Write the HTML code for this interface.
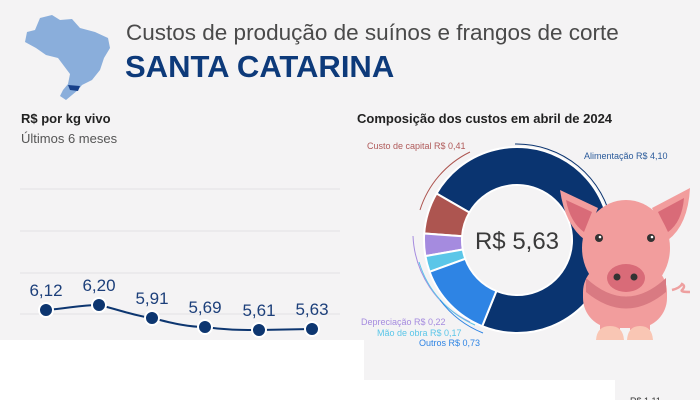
<!DOCTYPE html>
<html><head><meta charset="utf-8"><style>
html,body{margin:0;padding:0}
body{width:700px;height:400px;position:relative;background:#fff;font-family:"Liberation Sans",sans-serif;overflow:hidden}
.t{position:absolute;white-space:nowrap}
</style></head><body>
<svg width="700" height="400" style="position:absolute;left:0;top:0" xmlns="http://www.w3.org/2000/svg">
<rect x="0" y="0" width="700" height="340" fill="#f4f3f4"/>
<rect x="364" y="340" width="336" height="40" fill="#f4f3f4"/>
<rect x="615" y="380" width="85" height="20" fill="#f4f3f4"/>
<!-- Brazil map -->
<path d="M40,18 L52,15 L60,20 L72,19 L80,28 L95,32 L108,38 L110,48 L104,58 L100,70 L92,80 L82,85 L78,90 L72,95 L66,100 L60,96 L63,90 L68,84 L70,74 L64,66 L58,58 L46,55 L36,48 L25,42 L27,32 L35,30 Z" fill="#8aaedb"/>
<path d="M68,85 L80,86 L78,91 L70,90 Z" fill="#17408a"/>
<!-- left chart grid -->
<g stroke="#e2e2e4" stroke-width="1">
<line x1="20" y1="189" x2="340" y2="189"/>
<line x1="20" y1="231" x2="340" y2="231"/>
<line x1="20" y1="273" x2="340" y2="273"/>
<line x1="20" y1="314" x2="340" y2="314"/>
</g>
<path d="M46,310 C70,308 80,305 99,305 C120,310 135,316 152,318 C175,324 190,327 205,327 C225,330 240,330 259,330 L312,329" fill="none" stroke="#0d3670" stroke-width="2"/>
<g fill="#0d3670" stroke="#fff" stroke-width="2">
<circle cx="46" cy="310" r="7"/><circle cx="99" cy="305" r="7"/><circle cx="152" cy="318" r="7"/>
<circle cx="205" cy="327" r="7"/><circle cx="259" cy="330" r="7"/><circle cx="312" cy="329" r="7"/>
</g>
<g font-family="Liberation Sans,sans-serif" font-size="17" fill="#1c3f7a" text-anchor="middle">
<text x="46" y="296">6,12</text><text x="99" y="291">6,20</text><text x="152" y="304">5,91</text>
<text x="205" y="313">5,69</text><text x="259" y="316">5,61</text><text x="312" y="315">5,63</text>
</g>
<!-- donut -->
<g stroke="#fff" stroke-width="2" transform="translate(517,240)">
<path d="M-80.5,-46.5 A93,93 0 1 1 -34.8,86.2 L-20.6,51 A55,55 0 1 0 -47.6,-27.5 Z" fill="#0a3470"/>
<path d="M-92.8,-6.5 A93,93 0 0 1 -80.5,-46.5 L-47.6,-27.5 A55,55 0 0 0 -54.9,-3.8 Z" fill="#ad5550"/>
<path d="M-91.6,16.1 A93,93 0 0 1 -92.8,-6.5 L-54.9,-3.8 A55,55 0 0 0 -54.2,9.5 Z" fill="#a58bdf"/>
<path d="M-87.4,31.8 A93,93 0 0 1 -91.6,16.1 L-54.2,9.5 A55,55 0 0 0 -51.7,18.8 Z" fill="#5bc6e8"/>
<path d="M-34.8,86.2 A93,93 0 0 1 -87.4,31.8 L-51.7,18.8 A55,55 0 0 0 -20.6,51 Z" fill="#2e84e4"/>
</g>
<circle cx="517" cy="240" r="54" fill="#f4f3f4"/>
<g fill="none" stroke-width="1">
<path d="M515,144 A97,97 0 0 1 612,224" stroke="#0a3470"/>
<path d="M420,210 A97,97 0 0 1 470,152" stroke="#ad5550"/>
<path d="M413,236 A100,100 0 0 0 470,322" stroke="#a58bdf"/>
<path d="M419,262 A100,100 0 0 0 475,325" stroke="#5bc6e8"/>
<path d="M440,300 A100,100 0 0 0 483,333" stroke="#2e84e4"/>
</g>
<text x="517" y="249" font-family="Liberation Sans,sans-serif" font-size="24" fill="#3a3a3a" text-anchor="middle">R$ 5,63</text>
<g font-family="Liberation Sans,sans-serif" font-size="9">
<text x="367" y="149" fill="#b05a5a">Custo de capital R$ 0,41</text>
<text x="584" y="159" fill="#2a5a9a">Alimentação R$ 4,10</text>
<text x="361" y="325" fill="#a58bdf">Depreciação R$ 0,22</text>
<text x="377" y="336" fill="#5bc6e8">Mão de obra R$ 0,17</text>
<text x="419" y="346" fill="#2e84e4">Outros R$ 0,73</text>
</g>
<!-- pig -->
<path d="M672,290 q8,-2 10,-6 q4,2 0,6 q-2,2 8,2" fill="none" stroke="#eea0a0" stroke-width="2.5"/>
<rect x="583" y="262" width="84" height="66" rx="30" fill="#f29d9d"/>
<path d="M586,278 Q626,315 666,278 L666,292 Q626,325 586,292 Z" fill="#d97a82"/>
<path d="M560,190 L598,208 L585,240 Q565,225 560,190 Z" fill="#f29d9d"/>
<path d="M566,200 L592,212 L584,232 Q570,222 566,200 Z" fill="#d96b78"/>
<path d="M690,188 L652,208 L668,240 Q688,225 690,188 Z" fill="#f29d9d"/>
<path d="M684,198 L658,212 L668,232 Q682,222 684,198 Z" fill="#d96b78"/>
<ellipse cx="626" cy="248" rx="44" ry="48" fill="#f29d9d"/>
<circle cx="599" cy="238" r="4" fill="#333"/><circle cx="600" cy="237" r="1.3" fill="#fff"/>
<circle cx="651" cy="238" r="4" fill="#333"/><circle cx="652" cy="237" r="1.3" fill="#fff"/>
<ellipse cx="626" cy="278" rx="19" ry="14" fill="#d96b78"/>
<circle cx="617" cy="277" r="3.5" fill="#333"/><circle cx="634" cy="277" r="3.5" fill="#333"/>
<rect x="600" y="318" width="20" height="12" fill="#f29d9d"/>
<rect x="630" y="318" width="20" height="12" fill="#f29d9d"/>
<path d="M596,340 Q597,326 610,326 Q623,326 624,340 Z" fill="#f9c6b4"/>
<path d="M627,340 Q628,326 640,326 Q652,326 653,340 Z" fill="#f9c6b4"/>
<text x="630" y="404" font-family="Liberation Sans,sans-serif" font-size="9" fill="#333">R$ 1,11</text>
</svg>
<div class="t" style="left:126px;top:20px;font-size:22.5px;color:#4a4a4a">Custos de produção de suínos e frangos de corte</div>
<div class="t" style="left:125px;top:49px;font-size:31px;font-weight:bold;color:#0d3a7a">SANTA CATARINA</div>
<div class="t" style="left:21px;top:111px;font-size:13px;font-weight:bold;color:#222">R$ por kg vivo</div>
<div class="t" style="left:21px;top:131px;font-size:13px;color:#555">Últimos 6 meses</div>
<div class="t" style="left:357px;top:111px;font-size:13px;font-weight:bold;color:#222">Composição dos custos em abril de 2024</div>
</body></html>
